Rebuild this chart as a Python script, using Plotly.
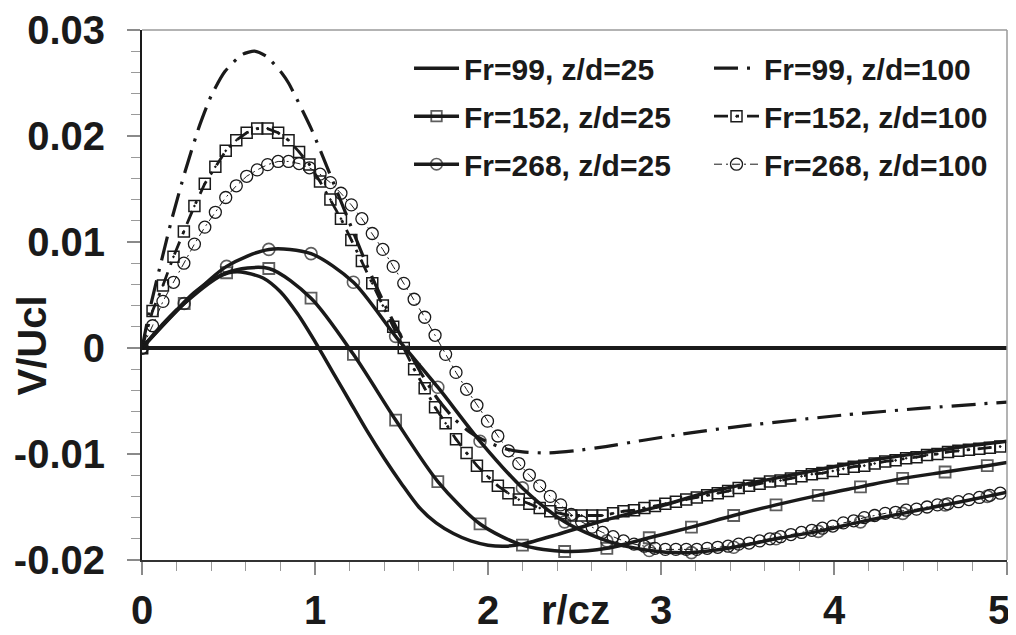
import plotly.graph_objects as go

# ---------------- data ----------------
# sparse grid of the z/d=25 model curves (markers) and curve end point
R_SPARSE = [0.0, 0.244, 0.489, 0.733, 0.977, 1.222, 1.466, 1.710, 1.954, 2.199, 2.443,
            2.687, 2.932, 3.176, 3.420, 3.665, 3.909, 4.153, 4.397, 4.642, 4.886]
R_END = 5.0

FR152_Z25 = [0.0, 0.0042, 0.0071, 0.0075, 0.0047, -0.0006, -0.0068, -0.0126, -0.0166, -0.0186, -0.0192,
             -0.0189, -0.0179, -0.0169, -0.0158, -0.0148, -0.0139, -0.0131, -0.0123, -0.0117, -0.0111]
FR152_Z25_END = -0.0108

FR268_Z25 = [0.0, 0.0042, 0.0077, 0.0093, 0.0089, 0.0062, 0.0011, -0.0037, -0.0088, -0.0132, -0.0164,
             -0.0182, -0.0191, -0.0193, -0.0188, -0.0180, -0.0173, -0.0164, -0.0156, -0.0148, -0.0140]
FR268_Z25_END = -0.0136

FR99_Z25_R = [0.0, 0.1, 0.2, 0.3, 0.4, 0.5, 0.55, 0.6, 0.7, 0.8, 0.9, 1.0, 1.1, 1.2, 1.3, 1.4, 1.5,
              1.6, 1.7, 1.8, 1.9, 2.0, 2.1, 2.2, 2.4, 2.6, 2.8, 3.0, 3.25, 3.5, 3.75, 4.0, 4.25,
              4.5, 4.75, 5.0]
FR99_Z25_V = [0.0, 0.0019, 0.0036, 0.0052, 0.0064, 0.0071, 0.0072, 0.0071, 0.0066, 0.0053, 0.0032,
              0.0006, -0.0022, -0.0050, -0.0078, -0.0104, -0.0128, -0.0150, -0.0165, -0.0175,
              -0.0182, -0.0186, -0.0187, -0.0185, -0.0176, -0.0166, -0.0157, -0.0149, -0.0137,
              -0.0128, -0.0120, -0.0112, -0.0105, -0.0099, -0.0093, -0.0088]

FR99_Z100_R = [0.0, 0.05, 0.106, 0.173, 0.25, 0.333, 0.40, 0.48, 0.58, 0.65, 0.72, 0.81, 0.847,
               0.978, 1.084, 1.2, 1.3, 1.4, 1.5, 1.6, 1.7, 1.8, 1.9, 2.0, 2.1, 2.2, 2.35, 2.5,
               2.68, 2.9, 3.17, 3.5, 4.07, 4.5, 5.0]
FR99_Z100_V = [0.0, 0.0040, 0.0078, 0.0122, 0.0167, 0.0210, 0.0238, 0.0261, 0.0277, 0.0280, 0.0275,
               0.0259, 0.0250, 0.0207, 0.0165, 0.0118, 0.0078, 0.0042, 0.0010, -0.0020, -0.0046,
               -0.0066, -0.0080, -0.0089, -0.0095, -0.0098, -0.0099, -0.0097, -0.0093, -0.0087,
               -0.0080, -0.0073, -0.0063, -0.0057, -0.0051]

# dense measured profiles, z/d=100
R_DENSE = [0.0, 0.061, 0.121, 0.182, 0.242, 0.303, 0.363, 0.424, 0.484, 0.545, 0.605, 0.666,
           0.726, 0.787, 0.847, 0.908, 0.968, 1.029, 1.089, 1.150, 1.210, 1.271, 1.331, 1.392,
           1.452, 1.513, 1.573, 1.634, 1.694, 1.755, 1.815, 1.876, 1.936, 1.997, 2.057, 2.118,
           2.178, 2.239, 2.299, 2.360, 2.420, 2.481, 2.541, 2.602, 2.662, 2.723, 2.783, 2.844,
           2.904, 2.965, 3.025, 3.086, 3.146, 3.207, 3.267, 3.328, 3.388, 3.449, 3.509, 3.570,
           3.630, 3.691, 3.751, 3.812, 3.872, 3.933, 3.993, 4.054, 4.114, 4.175, 4.235, 4.296,
           4.356, 4.417, 4.477, 4.538, 4.598, 4.659, 4.719, 4.780, 4.840, 4.901, 4.961]

FR152_Z100 = [0.0, 0.0035, 0.0059, 0.0086, 0.0110, 0.0134, 0.0155, 0.0171, 0.0186, 0.0196, 0.0203,
              0.0207, 0.0207, 0.0203, 0.0196, 0.0185, 0.0173, 0.0157, 0.0140, 0.0122, 0.0102,
              0.0082, 0.0061, 0.0040, 0.0020, 0.0000, -0.0020, -0.0038, -0.0056, -0.0071, -0.0086,
              -0.0099, -0.0111, -0.0121, -0.0130, -0.0137, -0.0143, -0.0147, -0.0151, -0.0154,
              -0.0156, -0.0158, -0.0158, -0.0158, -0.0158, -0.0156, -0.0154, -0.0153, -0.0151,
              -0.0149, -0.0147, -0.0145, -0.0143, -0.0141, -0.0139, -0.0137, -0.0135, -0.0132,
              -0.0130, -0.0128, -0.0126, -0.0125, -0.0123, -0.0121, -0.0119, -0.0118, -0.0116,
              -0.0114, -0.0112, -0.0111, -0.0109, -0.0107, -0.0106, -0.0104, -0.0103, -0.0101,
              -0.0100, -0.0098, -0.0097, -0.0096, -0.0095, -0.0094, -0.0093]

FR268_Z100 = [0.0, 0.0021, 0.0044, 0.0062, 0.0080, 0.0098, 0.0114, 0.0128, 0.0142, 0.0153, 0.0162,
              0.0168, 0.0173, 0.0176, 0.0176, 0.0174, 0.0170, 0.0164, 0.0156, 0.0146, 0.0135,
              0.0122, 0.0108, 0.0093, 0.0077, 0.0061, 0.0046, 0.0029, 0.0012, -0.0006, -0.0023,
              -0.0039, -0.0054, -0.0069, -0.0083, -0.0097, -0.0109, -0.0120, -0.0130, -0.0140,
              -0.0148, -0.0157, -0.0164, -0.0169, -0.0174, -0.0178, -0.0182, -0.0185, -0.0187,
              -0.0189, -0.0190, -0.0190, -0.0190, -0.0190, -0.0189, -0.0188, -0.0187, -0.0185,
              -0.0184, -0.0182, -0.0180, -0.0178, -0.0176, -0.0174, -0.0172, -0.0170, -0.0168,
              -0.0165, -0.0163, -0.0160, -0.0158, -0.0156, -0.0155, -0.0153, -0.0152, -0.0150,
              -0.0148, -0.0147, -0.0145, -0.0143, -0.0141, -0.0139, -0.0137]

Y_TICKS = [0.03, 0.02, 0.01, 0.0, -0.01, -0.02]
Y_TICK_TEXT = ["0.03", "0.02", "0.01", "0", "-0.01", "-0.02"]
X_TICKS = [0, 1, 2, 3, 4, 5]
X_TICK_TEXT = ["0", "1", "2", "3", "4", ""]
X_LAST_TICK = 5
X_LAST_TEXT = "5"   # drawn as an annotation nudged left so it stays inside the page

NAMES = ["Fr=99, z/d=25", "Fr=152, z/d=25", "Fr=268, z/d=25",
         "Fr=99, z/d=100", "Fr=152, z/d=100", "Fr=268, z/d=100"]

# ---------------- figure ----------------
INK = "#1a1a1a"
FONT = "Liberation Sans, Arial, sans-serif"
fig = go.Figure()

def sized(n, s):
    return [s] * n + [0]

# left legend column (z/d=25)
fig.add_trace(go.Scatter(
    x=FR99_Z25_R, y=FR99_Z25_V, name=NAMES[0], mode="lines",
    line=dict(color=INK, width=3.5, shape="spline", smoothing=0.8),
    legend="legend", legendgroup="a"))
fig.add_trace(go.Scatter(
    x=R_SPARSE + [R_END], y=FR152_Z25 + [FR152_Z25_END], name=NAMES[1], mode="lines+markers",
    line=dict(color=INK, width=3.5, shape="spline", smoothing=0.8),
    marker=dict(symbol="square-open", size=sized(len(R_SPARSE), 11), color=INK,
                line=dict(width=1.8, color=INK)),
    legend="legend", legendgroup="b"))
fig.add_trace(go.Scatter(
    x=R_SPARSE + [R_END], y=FR268_Z25 + [FR268_Z25_END], name=NAMES[2], mode="lines+markers",
    line=dict(color=INK, width=3.5, shape="spline", smoothing=0.8),
    marker=dict(symbol="circle-open", size=sized(len(R_SPARSE), 12), color=INK,
                line=dict(width=1.6, color=INK)),
    legend="legend", legendgroup="c"))

# right legend column (z/d=100)
fig.add_trace(go.Scatter(
    x=FR99_Z100_R, y=FR99_Z100_V, name=NAMES[3], mode="lines",
    line=dict(color=INK, width=3.2, shape="spline", smoothing=0.6, dash="24px,9px,3px,9px"),
    legend="legend2", legendgroup="d"))
fig.add_trace(go.Scatter(
    x=R_DENSE, y=FR152_Z100, name=NAMES[4], mode="lines+markers",
    line=dict(color=INK, width=2.8, dash="14px,8px,3px,8px"),
    marker=dict(symbol="square-open-dot", size=11, color=INK, line=dict(width=1.5, color=INK)),
    legend="legend2", legendgroup="e"))
fig.add_trace(go.Scatter(
    x=R_DENSE, y=FR268_Z100, name=NAMES[5], mode="lines+markers",
    line=dict(color=INK, width=1, dash="8px,4px,2px,4px"),
    marker=dict(symbol="circle-open", size=12, color=INK, line=dict(width=1.3, color=INK)),
    legend="legend2", legendgroup="f"))

legend_common = dict(
    orientation="v", yanchor="top", xanchor="left", bgcolor="rgba(0,0,0,0)",
    font=dict(family=FONT, size=30, color=INK, weight="bold"),
    tracegroupgap=6, itemwidth=45, traceorder="grouped")

label_font = dict(family=FONT, size=40, color=INK, weight="bold")

# the page body adds an 8 px offset, so the figure is 8 px smaller on each axis
fig.update_layout(
    width=1008, height=627,
    margin=dict(l=134, r=9, t=22, b=75, autoexpand=False),
    paper_bgcolor="white", plot_bgcolor="white",
    showlegend=True,
    legend=dict(x=0.3087, y=0.977, **legend_common),
    legend2=dict(x=0.6555, y=0.977, **legend_common),
    xaxis=dict(
        range=[0, 5], tickvals=X_TICKS, ticktext=X_TICK_TEXT, automargin=False,
        ticklabeloverflow="allow",
        ticks="outside", ticklen=13, tickwidth=1.5, tickcolor="#8a8a8a",
        minor=dict(dtick=0.2, ticks="outside", ticklen=9, tickwidth=1.2, tickcolor="#9a9a9a"),
        showline=True, linecolor="#333", linewidth=2,
        showgrid=False, zeroline=False,
        tickfont=label_font,
        ticklabelstandoff=1),
    yaxis=dict(
        range=[-0.02, 0.03], tickvals=Y_TICKS, ticktext=Y_TICK_TEXT, automargin=False,
        ticklabeloverflow="allow",
        ticks="outside", ticklen=13, tickwidth=1.5, tickcolor="#8a8a8a",
        minor=dict(dtick=0.002, ticks="outside", ticklen=9, tickwidth=1.2, tickcolor="#9a9a9a"),
        showline=True, linecolor=INK, linewidth=2,
        showgrid=False, zeroline=True, zerolinecolor=INK, zerolinewidth=4,
        tickfont=label_font,
        ticklabelstandoff=14),
    shapes=[
        dict(type="line", xref="paper", yref="paper", x0=0, x1=1, y0=1, y1=1,
             line=dict(color="#9a9a9a", width=1.5)),
        dict(type="line", xref="paper", yref="paper", x0=1, x1=1, y0=0, y1=1,
             line=dict(color="#9a9a9a", width=1.5)),
    ],
    annotations=[
        dict(text="V/Ucl", xref="paper", yref="paper", x=-0.127, y=0.405,
             xanchor="center", yanchor="middle", textangle=-90, showarrow=False,
             font=label_font),
        dict(text="r/cz", xref="paper", yref="paper", x=0.5006, y=-0.095,
             xanchor="center", yanchor="middle", showarrow=False,
             font=label_font),
        dict(text=X_LAST_TEXT, xref="x", yref="paper", x=X_LAST_TICK, y=-0.095,
             xanchor="right", yanchor="middle", xshift=5, showarrow=False,
             font=label_font),
    ],
)

fig.write_html("out.html")
